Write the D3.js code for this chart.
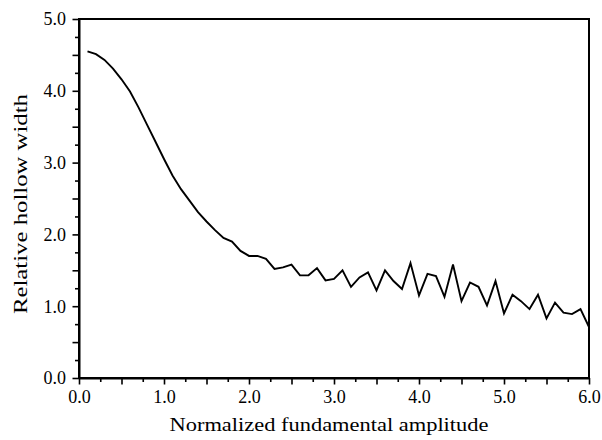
<!DOCTYPE html>
<html>
<head>
<meta charset="utf-8">
<script src="https://cdn.jsdelivr.net/npm/d3@7"></script>
<style>
  body { margin: 0; background: #fff; }
</style>
</head>
<body>
<div id="chart"></div>
<script>
// amplitude values (x) and relative hollow width (y)
var amplitude = [0.1,0.2,0.3,0.4,0.5,0.6,0.7,0.8,0.9,1.0,
                 1.1,1.2,1.3,1.4,1.5,1.6,1.7,1.8,1.9,2.0,
                 2.1,2.2,2.3,2.4,2.5,2.6,2.7,2.8,2.9,3.0,
                 3.1,3.2,3.3,3.4,3.5,3.6,3.7,3.8,3.9,4.0,
                 4.1,4.2,4.3,4.4,4.5,4.6,4.7,4.8,4.9,5.0,
                 5.1,5.2,5.3,5.4,5.5,5.6,5.7,5.8,5.9,6.0];
var hollowWidth = [4.55,4.51,4.43,4.31,4.16,3.99,3.77,3.53,3.29,3.05,
                   2.82,2.63,2.47,2.31,2.18,2.06,1.95,1.90,1.77,1.70,
                   1.70,1.66,1.52,1.54,1.58,1.43,1.43,1.53,1.36,1.38,
                   1.50,1.27,1.40,1.47,1.22,1.50,1.35,1.24,1.60,1.15,
                   1.45,1.42,1.13,1.58,1.07,1.33,1.27,1.01,1.35,0.90,
                   1.16,1.07,0.96,1.16,0.83,1.05,0.91,0.89,0.96,0.71];
var xTickLabels = [0, 1, 2, 3, 4, 5, 6];
var yTickLabels = [0, 1, 2, 3, 4, 5];
var xTitle = "Normalized fundamental amplitude";
var yTitle = "Relative hollow width";

var cfg = {
  w: 602,
  h: 440,
  margin: {top: 19, right: 13, bottom: 62, left: 79},
  font: "'Liberation Serif', serif",
  fontSize: "18px",
  majorTick: 6.5,
  minorTick: 4,
  lineWidth: 2
};

var innerW = cfg.w - cfg.margin.left - cfg.margin.right,
    innerH = cfg.h - cfg.margin.top - cfg.margin.bottom;

var x = d3.scaleLinear().domain([0, 6]).range([0, innerW]);
var y = d3.scaleLinear().domain([0, 5]).range([innerH, 0]);

var svg = d3.select("#chart").append("svg")
  .attr("width", cfg.w)
  .attr("height", cfg.h);

var g = svg.append("g")
  .attr("transform", "translate(" + cfg.margin.left + "," + cfg.margin.top + ")");

// tick every 0.25, longer on the halves, labels on whole numbers only
function tickLen(d) {
  return Math.abs(d * 2 - Math.round(d * 2)) < 1e-6 ? cfg.majorTick : cfg.minorTick;
}

var xAxis = g.append("g")
  .attr("transform", "translate(0," + innerH + ")")
  .call(d3.axisBottom(x).tickValues(d3.range(0, 24.5).map(function(i){ return i / 4; }))
    .tickSizeOuter(0).tickFormat(function(d){ return xTickLabels.indexOf(d) >= 0 ? d3.format(".1f")(d) : ""; }));

xAxis.attr("font-family", null);
xAxis.selectAll(".tick line").attr("y2", tickLen).attr("stroke-width", 1.6);
xAxis.selectAll(".tick text")
  .attr("y", 25).attr("dy", 0)
  .style("font-family", cfg.font)
  .style("font-size", cfg.fontSize);

var yAxis = g.append("g")
  .call(d3.axisLeft(y).tickValues(d3.range(0, 20.5).map(function(i){ return i / 4; }))
    .tickSizeOuter(0).tickFormat(function(d){ return yTickLabels.indexOf(d) >= 0 ? d3.format(".1f")(d) : ""; }));

yAxis.attr("font-family", null);
yAxis.selectAll(".tick line").attr("x2", function(d){ return -tickLen(d); }).attr("stroke-width", 1.6);
yAxis.selectAll(".tick text")
  .attr("x", -13).attr("dy", "0.33em")
  .style("font-family", cfg.font)
  .style("font-size", cfg.fontSize);

g.selectAll(".domain").attr("stroke-width", cfg.lineWidth);

// frame round the plot
g.append("rect")
  .attr("x", 0).attr("y", 0)
  .attr("width", innerW).attr("height", innerH)
  .attr("fill", "none")
  .attr("stroke", "#000")
  .attr("stroke-width", cfg.lineWidth);

// the curve
var line = d3.line()
  .x(function(d, i){ return x(amplitude[i]); })
  .y(function(d){ return y(d); });

g.append("path")
  .datum(hollowWidth)
  .attr("d", line)
  .attr("fill", "none")
  .attr("stroke", "#000")
  .attr("stroke-width", 1.9)
  .attr("stroke-linejoin", "miter");

// axis titles
svg.append("text")
  .attr("x", 329).attr("y", 431)
  .attr("text-anchor", "middle")
  .attr("textLength", 319)
  .attr("lengthAdjust", "spacingAndGlyphs")
  .style("font-family", cfg.font)
  .style("font-size", cfg.fontSize)
  .text(xTitle);

svg.append("text")
  .attr("transform", "translate(27,204) rotate(-90)")
  .attr("text-anchor", "middle")
  .attr("textLength", 220)
  .attr("lengthAdjust", "spacingAndGlyphs")
  .style("font-family", cfg.font)
  .style("font-size", cfg.fontSize)
  .text(yTitle);
</script>
</body>
</html>
